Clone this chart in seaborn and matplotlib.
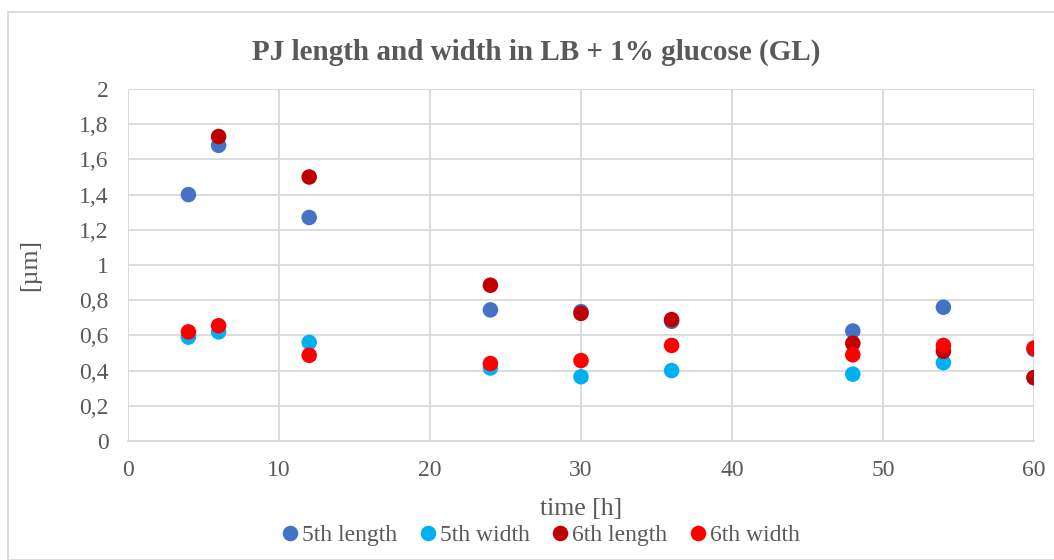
import numpy as np
import pandas as pd
import matplotlib
matplotlib.use("Agg")
import matplotlib.pyplot as plt
from matplotlib.ticker import FuncFormatter, MultipleLocator
from matplotlib.patches import Rectangle
import seaborn as sns

# Sampling times [h]
time_h = [4, 6, 12, 24, 30, 36, 48, 54, 60]

# Measurements [µm]
len_5th = [1.40, 1.68, 1.27, 0.745, 0.735, 0.68, 0.625, 0.76, 0.52]
wid_5th = [0.59, 0.62, 0.56, 0.415, 0.365, 0.40, 0.38, 0.445, 0.36]
len_6th = [np.nan, 1.73, 1.50, 0.885, 0.725, 0.69, 0.555, 0.51, 0.36]
wid_6th = [0.62, 0.655, 0.487, 0.44, 0.457, 0.543, 0.49, 0.543, 0.528]

series_names = ["5th length", "5th width", "6th length", "6th width"]
series_colors = ["#4472C4", "#00B0F0", "#C00000", "#FF0000"]

frames = []
for name, vals in zip(series_names, [len_5th, wid_5th, len_6th, wid_6th]):
    frames.append(pd.DataFrame({"time": time_h, "value": vals, "series": name}))
df = pd.concat(frames, ignore_index=True).dropna()

sns.set_theme(style="white")
plt.rcParams["font.family"] = ["Liberation Serif", "DejaVu Serif"]
text_color = "#595959"
grid_color = "#D9D9D9"

fig = plt.figure(figsize=(10.54, 5.60), dpi=100)
ax = fig.add_axes([128 / 1054, 1 - 441 / 560, (1034 - 128) / 1054, (441 - 89) / 560])

sns.scatterplot(data=df, x="time", y="value", hue="series",
                hue_order=series_names, palette=series_colors,
                s=125, linewidth=0, edgecolor="none", ax=ax, legend=True, zorder=3)

ax.set_xlim(0, 60)
ax.set_ylim(0, 2)
ax.xaxis.set_major_locator(MultipleLocator(10))
ax.yaxis.set_major_locator(MultipleLocator(0.2))
ax.yaxis.set_major_formatter(FuncFormatter(lambda v, p: f"{v:.1f}".rstrip("0").rstrip(".").replace(".", ",")))
ax.grid(True, color=grid_color, linewidth=1.3, zorder=0)
ax.set_axisbelow(True)
for side in ["top", "right", "left"]:
    ax.spines[side].set_visible(False)
ax.spines["bottom"].set_color(grid_color)
ax.spines["bottom"].set_linewidth(1.3)
ax.tick_params(axis="both", length=0, labelsize=17, colors=text_color)
ax.tick_params(axis="x", pad=14)
ax.tick_params(axis="y", pad=14)

ax.set_xlabel("time [h]", fontsize=18.5, color=text_color, labelpad=12)
ax.set_ylabel("[µm]", fontsize=18.5, color=text_color, labelpad=27)

# Chart title centred over the whole chart frame
fig.text(536 / 1054, 1 - 52 / 560, "PJ length and width in LB + 1% glucose (GL)",
         fontsize=21, fontweight="bold", color=text_color, ha="center", va="center")

handles, labels = ax.get_legend_handles_labels()
ax.legend(handles, labels, loc="upper center", bbox_to_anchor=(0.455, -0.21),
          ncol=4, frameon=False, fontsize=17, handlelength=0.8, handletextpad=0.1,
          columnspacing=0.9, markerscale=1.0, labelcolor=text_color,
          borderaxespad=0)

fig.patches.append(Rectangle((8 / 1054, 0), 1, 1 - 12 / 560, transform=fig.transFigure,
                             fill=False, edgecolor="#D9D9D9", linewidth=1.3))

fig.savefig("out.png", dpi=100, facecolor="white")
